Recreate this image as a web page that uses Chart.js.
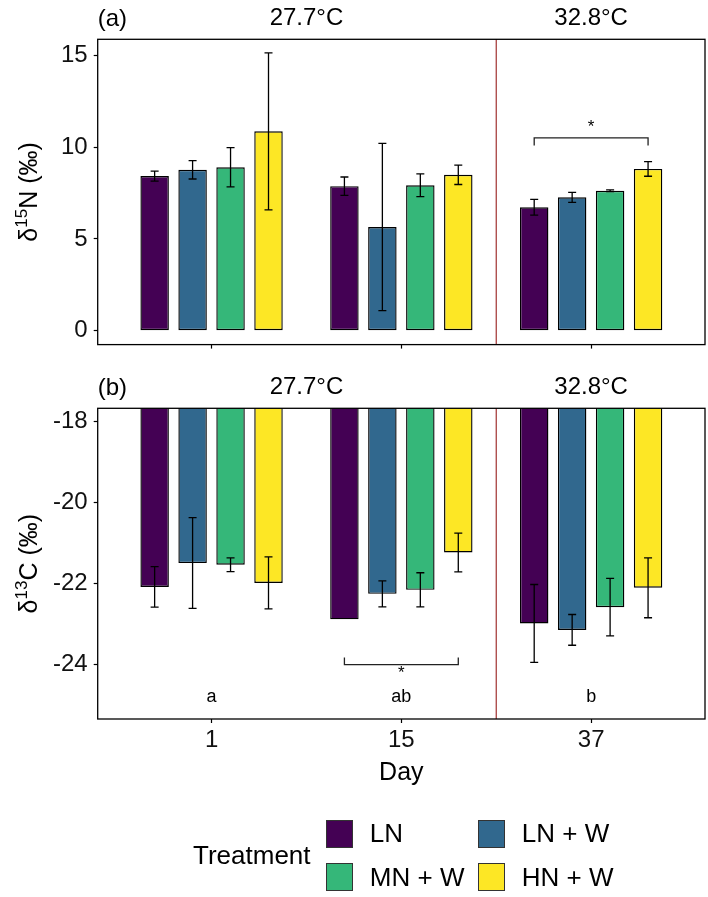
<!DOCTYPE html>
<html>
<head>
<meta charset="utf-8">
<script src="https://cdn.jsdelivr.net/npm/chart.js@4.4.1/dist/chart.umd.min.js"></script>
<style>
  html, body { margin: 0; padding: 0; background: #fff; }
  #wrap { position: relative; width: 708px; height: 897px; overflow: hidden;
          font-family: 'Liberation Sans', Arial, sans-serif; color: #000; }
  #c1 { position: absolute; left: 0; top: 0; }
  #c2 { position: absolute; left: 0; top: 365px; }
  #legend { position: absolute; left: 193px; top: 820px; display: flex; align-items: center; font-size: 26px; }
  #legend .lt { margin-right: 15px; }
  #legend .lg { display: grid; grid-template-columns: 152px auto; row-gap: 15.7px; }
  #legend .li { display: flex; align-items: center; height: 27.6px; white-space: nowrap; }
  #legend .lb { width: 25.6px; height: 25.6px; border: 1px solid #333; margin-right: 16.7px; flex: none; }
</style>
</head>
<body>
<div id="wrap">
  <canvas id="c1" width="708" height="365"></canvas>
  <canvas id="c2" width="708" height="532"></canvas>
  <div id="legend"></div>
</div>
<script>
// ---------------- data ----------------
const dayLabels = ['1', '15', '37'];
const dayX = [1, 2, 3];
const treatments = ['LN', 'LN + W', 'MN + W', 'HN + W'];
const fillColors = ['#440154', '#31688E', '#35B779', '#FDE725'];

// delta 15N (‰), means per day (1, 15, 37)
const n15_LN  = [8.43, 7.88, 6.73];
const n15_LNW = [8.77, 5.65, 7.27];
const n15_MNW = [8.91, 7.93, 7.63];
const n15_HNW = [10.87, 8.50, 8.82];
// delta 15N error half-widths
const n15Err_LN  = [0.27, 0.50, 0.43];
const n15Err_LNW = [0.50, 4.56, 0.27];
const n15Err_MNW = [1.07, 0.62, 0.05];
const n15Err_HNW = [4.28, 0.53, 0.40];

// delta 13C (‰), means per day (1, 15, 37)
const c13_LN  = [-22.08, -22.88, -22.98];
const c13_LNW = [-21.49, -22.25, -23.14];
const c13_MNW = [-21.53, -22.15, -22.58];
const c13_HNW = [-21.98, -21.23, -22.10];
// delta 13C error half-widths
const c13Err_LN  = [0.50, 0.00, 0.96];
const c13Err_LNW = [1.12, 0.32, 0.38];
const c13Err_MNW = [0.17, 0.42, 0.71];
const c13Err_HNW = [0.64, 0.48, 0.74];

const n15Ticks = [0, 5, 10, 15];
const c13Ticks = [-24, -22, -20, -18];
const n15Range = [-0.76, 15.89];
const c13Range = [-25.34, -17.67];
const xRange = [0.4, 3.6];

const tempLabels = ['27.7°C', '32.8°C'];
const tempLabelX = [1.5, 3];
const warmingX = 2.5;

// significance brackets: day index, from/to treatment index, line value, tip value, star value
const n15Sig = { day: 2, from: 0, to: 3, y: 10.51, tip: 10.10, starY: 11.10 };
const c13Sig = { day: 1, from: 0, to: 3, y: -24.00, tip: -23.82, starY: -24.20 };
const c13Letters = ['a', 'ab', 'b'];
const c13LetterY = -24.79;

// ---------------- drawing ----------------
const FONT = "'Liberation Sans', Arial, sans-serif";
Chart.defaults.font.family = FONT;
Chart.defaults.color = '#000';

function drawYTitle(ctx, cx, cy, parts, size) {
  ctx.save();
  ctx.translate(cx, cy);
  ctx.rotate(-Math.PI / 2);
  ctx.textBaseline = 'alphabetic';
  ctx.textAlign = 'left';
  let total = 0;
  const ws = parts.map(p => {
    ctx.font = (p.sup ? size * 0.68 : size) + 'px ' + FONT;
    const w = ctx.measureText(p.t).width;
    total += w;
    return w;
  });
  let x = -total / 2;
  parts.forEach((p, i) => {
    ctx.font = (p.sup ? size * 0.68 : size) + 'px ' + FONT;
    ctx.fillStyle = '#000';
    ctx.fillText(p.t, x, p.sup ? size * 0.36 - size * 0.42 : size * 0.36);
    x += ws[i];
  });
  ctx.restore();
}

function panelPlugin(cfg) {
  return {
    id: 'panel_' + cfg.tag,
    afterDatasetsDraw(chart) {
      const ctx = chart.ctx, xs = chart.scales.x, ys = chart.scales.y;
      ctx.save();
      ctx.strokeStyle = '#000';
      ctx.lineWidth = 1.3;
      chart.data.datasets.forEach((ds, di) => {
        const meta = chart.getDatasetMeta(di);
        meta.data.forEach((el, i) => {
          const e = cfg.errors[di][i];
          if (!e) return;
          const v = cfg.values[di][i];
          const yt = ys.getPixelForValue(v + e), yb = ys.getPixelForValue(v - e);
          ctx.beginPath();
          ctx.moveTo(el.x, yt); ctx.lineTo(el.x, yb);
          ctx.moveTo(el.x - 4, yt); ctx.lineTo(el.x + 4, yt);
          ctx.moveTo(el.x - 4, yb); ctx.lineTo(el.x + 4, yb);
          ctx.stroke();
        });
      });
      // significance bracket
      const s = cfg.sig;
      const x1 = chart.getDatasetMeta(s.from).data[s.day].x;
      const x2 = chart.getDatasetMeta(s.to).data[s.day].x;
      const yl = ys.getPixelForValue(s.y), yt = ys.getPixelForValue(s.tip);
      ctx.strokeStyle = '#222';
      ctx.lineWidth = 1.3;
      ctx.beginPath();
      ctx.moveTo(x1, yt); ctx.lineTo(x1, yl); ctx.lineTo(x2, yl); ctx.lineTo(x2, yt);
      ctx.stroke();
      ctx.fillStyle = '#000';
      ctx.font = '17px ' + FONT;
      ctx.textAlign = 'center';
      ctx.textBaseline = 'middle';
      ctx.fillText('*', (x1 + x2) / 2, ys.getPixelForValue(s.starY));
      // letters
      if (cfg.letters) {
        ctx.font = '18px ' + FONT;
        cfg.letters.forEach((t, i) => ctx.fillText(t, xs.getPixelForValue(dayX[i]), ys.getPixelForValue(cfg.letterY)));
      }
      ctx.restore();
    },
    afterDraw(chart) {
      const ctx = chart.ctx, xs = chart.scales.x, a = chart.chartArea;
      ctx.save();
      // warming divider
      const xr = xs.getPixelForValue(warmingX);
      ctx.strokeStyle = '#A0302F';
      ctx.lineWidth = 1.2;
      ctx.beginPath();
      ctx.moveTo(xr, a.top); ctx.lineTo(xr, a.bottom);
      ctx.stroke();
      // panel border
      ctx.strokeStyle = '#000';
      ctx.lineWidth = 1.3;
      ctx.strokeRect(a.left, a.top, a.right - a.left, a.bottom - a.top);
      // headers
      ctx.fillStyle = '#000';
      ctx.font = '24px ' + FONT;
      ctx.textBaseline = 'middle';
      ctx.textAlign = 'center';
      tempLabels.forEach((t, i) => ctx.fillText(t, xs.getPixelForValue(tempLabelX[i]), a.top - 21));
      ctx.textAlign = 'left';
      ctx.fillText(cfg.tag, a.left, a.top - 20);
      // y title
      drawYTitle(ctx, 28, (a.top + a.bottom) / 2, cfg.yTitle, 25);
      ctx.restore();
    }
  };
}

function makeDatasets(valueArrays) {
  return treatments.map((t, i) => ({
    label: t,
    data: dayX.map((x, j) => ({ x: x, y: valueArrays[i][j] })),
    backgroundColor: fillColors[i],
    borderColor: '#000',
    borderWidth: 1.4,
    borderSkipped: false,
    categoryPercentage: 0.8,
    barPercentage: 0.75,
    clip: 0
  }));
}

function makeChart(canvas, cfg) {
  return new Chart(canvas, {
    type: 'bar',
    data: { datasets: makeDatasets(cfg.values) },
    options: {
      responsive: false,
      animation: false,
      events: [],
      layout: { padding: cfg.padding },
      plugins: { legend: { display: false }, tooltip: { enabled: false } },
      scales: {
        x: {
          type: 'linear',
          offset: false,
          min: xRange[0], max: xRange[1],
          afterBuildTicks: s => { s.ticks = dayX.map(v => ({ value: v })); },
          afterFit: s => { s.height = cfg.xHeight; },
          grid: { display: true, offset: false, drawOnChartArea: false, drawTicks: true, tickLength: 4, tickColor: '#000', tickWidth: 1.2 },
          border: { display: false },
          ticks: {
            display: true,
            padding: 3,
            font: { size: 24 },
            color: '#111',
            maxRotation: 0,
            callback: v => cfg.showXLabels ? dayLabels[dayX.indexOf(v)] : ''
          },
          title: cfg.xTitle ? { display: true, text: cfg.xTitle, font: { size: 25 }, color: '#000', padding: { top: 0, bottom: 0 } } : { display: false }
        },
        y: {
          min: cfg.range[0], max: cfg.range[1],
          afterBuildTicks: s => { s.ticks = cfg.ticks.map(v => ({ value: v })); },
          afterFit: s => { s.width = 97.7; },
          grid: { display: true, drawOnChartArea: false, drawTicks: true, tickLength: 4, tickColor: '#000', tickWidth: 1.2 },
          border: { display: false },
          ticks: { padding: 6, font: { size: 24 }, color: '#111' }
        }
      }
    },
    plugins: [panelPlugin(cfg)]
  });
}

makeChart(document.getElementById('c1'), {
  tag: '(a)',
  values: [n15_LN, n15_LNW, n15_MNW, n15_HNW],
  errors: [n15Err_LN, n15Err_LNW, n15Err_MNW, n15Err_HNW],
  range: n15Range,
  ticks: n15Ticks,
  sig: n15Sig,
  padding: { top: 39.3, right: 3, bottom: 0, left: 0 },
  xHeight: 14,
  showXLabels: false,
  yTitle: [{ t: 'δ' }, { t: '15', sup: true }, { t: 'N (‰)' }]
});

makeChart(document.getElementById('c2'), {
  tag: '(b)',
  values: [c13_LN, c13_LNW, c13_MNW, c13_HNW],
  errors: [c13Err_LN, c13Err_LNW, c13Err_MNW, c13Err_HNW],
  range: c13Range,
  ticks: c13Ticks,
  sig: c13Sig,
  letters: c13Letters,
  letterY: c13LetterY,
  padding: { top: 43.3, right: 3, bottom: 109, left: 0 },
  xHeight: 69,
  showXLabels: true,
  xTitle: 'Day',
  yTitle: [{ t: 'δ' }, { t: '13', sup: true }, { t: 'C (‰)' }]
});

// legend
const legendEl = document.getElementById('legend');
legendEl.innerHTML = '<div class="lt">Treatment</div><div class="lg">' +
  treatments.map((t, i) => '<div class="li"><span class="lb" style="background:' + fillColors[i] + '"></span><span>' + t + '</span></div>').join('') +
  '</div>';
</script>
</body>
</html>
